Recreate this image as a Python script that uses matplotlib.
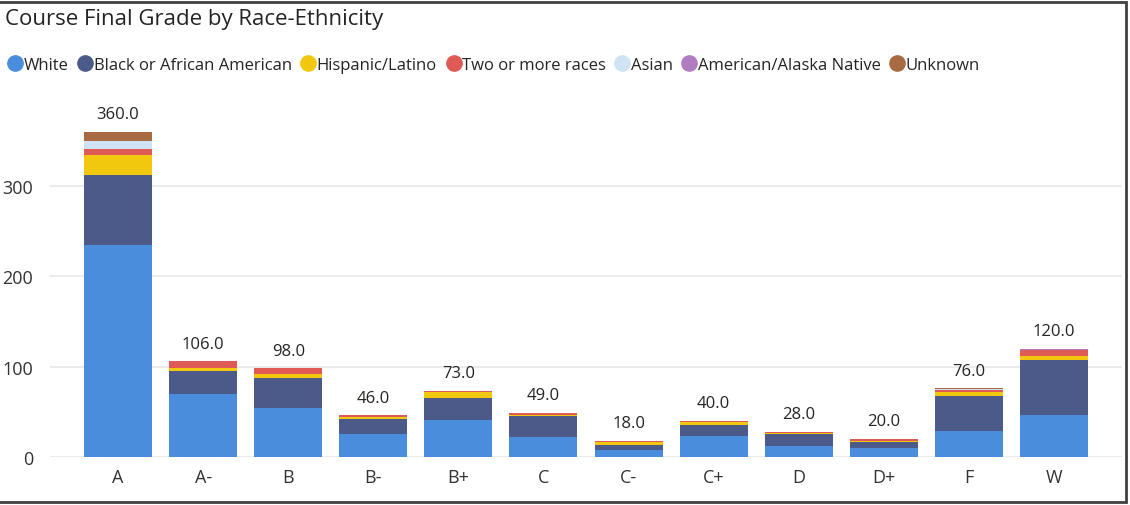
import numpy as np
import matplotlib.pyplot as plt
from matplotlib.patches import Rectangle
from matplotlib.lines import Line2D

plt.rcParams['font.family'] = ['Open Sans', 'DejaVu Sans']

grades = ['A', 'A-', 'B', 'B-', 'B+', 'C', 'C-', 'C+', 'D', 'D+', 'F', 'W']
races = ['White', 'Black or African American', 'Hispanic/Latino', 'Two or more races',
         'Asian', 'American/Alaska Native', 'Unknown']
colors = ['#4a8ddc', '#4c5a8a', '#f2c80f', '#e05a55', '#cfe3f5', '#b07cc0', '#a86a40']

# counts per race, one value per grade
white    = [235, 70, 54, 26, 41, 22, 8, 23, 12, 10, 29, 46]
black    = [77, 25, 33, 16, 24, 23, 5, 12, 14, 7, 39, 61]
hispanic = [22, 3, 5, 2, 7, 2, 4, 4, 1, 1, 4, 5]
two_more = [7, 8, 6, 2, 1, 2, 1, 1, 1, 2, 2, 6]
asian    = [9, 0, 0, 0, 0, 0, 0, 0, 0, 0, 1, 1]
native   = [0, 0, 0, 0, 0, 0, 0, 0, 0, 0, 0, 1]
unknown  = [10, 0, 0, 0, 0, 0, 0, 0, 0, 0, 1, 0]
totals   = [360, 106, 98, 46, 73, 49, 18, 40, 28, 20, 76, 120]

series = [white, black, hispanic, two_more, asian, native, unknown]

fig = plt.figure(figsize=(11.3, 5.06), dpi=100)
ax = fig.add_axes([50/1130, 48/506, 1072/1130, 358/506])

x = np.arange(len(grades))
bottom = np.zeros(len(grades))
for vals, col, name in zip(series, colors, races):
    ax.bar(x, vals, 0.8, bottom=bottom, color=col, label=name, zorder=2)
    bottom += np.array(vals)

for xi, t in zip(x, totals):
    ax.annotate(f'{t:.1f}', (xi, t), xytext=(0, 7), textcoords='offset points',
                ha='center', va='bottom', fontsize=12, color='#252423')

ax.set_xlim(-0.8, 11.8)
ax.set_ylim(0, 396.4)
ax.set_yticks([0, 100, 200, 300])
ax.set_xticks(x, grades)
ax.grid(axis='y', color='#e8e8e8', linewidth=1.2, zorder=0)
for s in ax.spines.values():
    s.set_visible(False)
ax.tick_params(axis='y', length=0, pad=12, labelsize=13, labelcolor='#333333')
ax.tick_params(axis='x', length=0, pad=8, labelsize=13, labelcolor='#333333')

fig.text(5/1130, 1 - 20/506, 'Course Final Grade by Race-Ethnicity', fontsize=16,
         va='center', ha='left', color='#252423')

handles = [Line2D([0], [0], marker='o', color='none', markerfacecolor=c,
                  markeredgecolor=c, markersize=11) for c in colors]
fig.legend(handles, races, loc='center left', bbox_to_anchor=(-0.004, 1 - 66/506),
           ncol=7, frameon=False, fontsize=12, handlelength=0.6, handletextpad=0.2,
           columnspacing=0.7, labelcolor='#252423')

fig.patches.append(Rectangle((-0.01, 3/506), 1126/1130 + 0.01, 500/506,
                             transform=fig.transFigure, fill=False,
                             edgecolor='#404040', linewidth=2))

fig.savefig('out.png', dpi=100)
